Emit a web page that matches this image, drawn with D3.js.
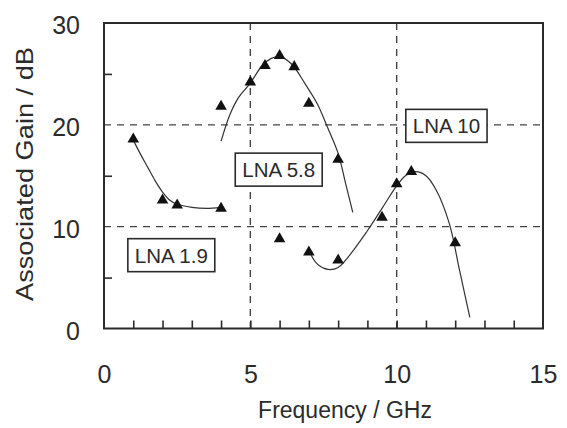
<!DOCTYPE html>
<html><head><meta charset="utf-8">
<script src="https://cdn.jsdelivr.net/npm/d3@7"></script>
<style>
body{margin:0;background:#fff}
text{font-family:"Liberation Sans",Arial,sans-serif;fill:#2b2b2b}
</style>
</head><body><svg id="c" width="567" height="428"></svg>
<script>
// ---- data ----
const xTickLabels = [0, 5, 10, 15];
const yTickLabels = [0, 10, 20, 30];
const xMinorTicks = [1,2,3,4,5,6,7,8,9,10,11,12,13,14];
const yMinorTicks = [5, 15, 25];
const gridFreq = [5, 10];
const gridGain = [10, 20];

// measured points
const lna19Freq = [1.0, 2.0, 2.5, 4.0];
const lna19Gain = [18.6, 12.6, 12.1, 11.8];
const lna58Freq = [4.0, 5.0, 5.5, 6.0, 6.5, 7.0, 8.0];
const lna58Gain = [21.8, 24.2, 25.8, 26.8, 25.7, 22.1, 16.6];
const lna10Freq = [6.0, 7.0, 8.0, 9.5, 10.0, 10.5, 12.0];
const lna10Gain = [8.8, 7.5, 6.7, 10.9, 14.2, 15.4, 8.4];

// fitted curves
const fit19Freq = [1.0, 1.25, 1.5, 1.75, 2.0, 2.25, 2.5, 3.0, 3.5, 4.0];
const fit19Gain = [18.5, 17.1, 15.8, 14.5, 13.4, 12.6, 12.2, 11.9, 11.8, 11.9];
const fit58Freq = [4.0, 4.3, 4.6, 5.0, 5.4, 5.7, 6.0, 6.4, 6.9, 7.3, 7.6, 8.0, 8.25, 8.5];
const fit58Gain = [18.4, 21.0, 22.7, 24.1, 25.8, 26.5, 26.7, 26.0, 23.9, 22.0, 20.0, 17.2, 14.3, 11.4];
const fit10Freq = [7.08, 7.3, 7.65, 8.0, 8.5, 9.0, 9.5, 10.0, 10.3, 10.65, 11.0, 11.35, 11.8, 12.15, 12.5];
const fit10Gain = [7.2, 6.3, 5.8, 6.0, 7.6, 9.6, 11.8, 14.0, 15.0, 15.4, 15.0, 13.6, 10.3, 5.7, 1.1];

const labelText = ["LNA 5.8", "LNA 10", "LNA 1.9"];
const labelFreq = [5.97, 11.7, 2.3];
const labelGain = [15.6, 19.9, 7.2];

// ---- chart ----
const svg = d3.select("#c");
const L = 104, R = 543, T = 23, B = 328.5;
const x = d3.scaleLinear().domain([0, 15]).range([L, R]);
const y = d3.scaleLinear().domain([0, 30]).range([B, T]);
const ink = "#2b2b2b";

// grid
svg.append("g").selectAll("line").data(gridFreq).join("line")
  .attr("x1", d => x(d)).attr("x2", d => x(d)).attr("y1", T).attr("y2", B)
  .attr("stroke", "#444").attr("stroke-width", 1.4).attr("stroke-dasharray", "7,6");
svg.append("g").selectAll("line").data(gridGain).join("line")
  .attr("y1", d => y(d)).attr("y2", d => y(d)).attr("x1", L).attr("x2", R)
  .attr("stroke", "#444").attr("stroke-width", 1.4).attr("stroke-dasharray", "7,6");

// minor ticks (inward)
const xm = svg.append("g").attr("transform", `translate(0,${B})`)
  .call(d3.axisBottom(x).tickValues(xMinorTicks).tickSize(-8).tickFormat(""));
const ym = svg.append("g").attr("transform", `translate(${L},0)`)
  .call(d3.axisLeft(y).tickValues(yMinorTicks).tickSize(-8).tickFormat(""));
[xm, ym].forEach(g => { g.select(".domain").remove(); g.selectAll("line").attr("stroke", ink).attr("stroke-width", 1.6); });

// tick labels
const xa = svg.append("g").attr("transform", `translate(0,${B})`)
  .call(d3.axisBottom(x).tickValues(xTickLabels).tickSize(0).tickPadding(0));
xa.select(".domain").remove();
xa.selectAll("text").attr("y", 54).attr("dy", 0).style("font-size", "25px")
  .style("font-family", "'Liberation Sans',Arial,sans-serif").attr("fill", ink);
const ya = svg.append("g").attr("transform", `translate(${L},0)`)
  .call(d3.axisLeft(y).tickValues(yTickLabels).tickSize(0).tickPadding(0));
ya.select(".domain").remove();
ya.selectAll("text").attr("x", -24).attr("dy", "0.42em").style("font-size", "25px")
  .style("font-family", "'Liberation Sans',Arial,sans-serif").attr("fill", ink);

// frame
svg.append("rect").attr("x", L).attr("y", T).attr("width", R - L).attr("height", B - T)
  .attr("fill", "none").attr("stroke", ink).attr("stroke-width", 2);

// curves
const line = d3.line().x(d => x(d[0])).y(d => y(d[1])).curve(d3.curveCatmullRom.alpha(0.5));
[[fit19Freq, fit19Gain], [fit58Freq, fit58Gain], [fit10Freq, fit10Gain]].forEach(([f, g]) => {
  svg.append("path").datum(d3.zip(f, g)).attr("d", line)
    .attr("fill", "none").attr("stroke", "#333").attr("stroke-width", 1.2);
});

// markers
const tri = d3.symbol().type(d3.symbolTriangle).size(58);
[[lna19Freq, lna19Gain], [lna58Freq, lna58Gain], [lna10Freq, lna10Gain]].forEach(([f, g]) => {
  svg.append("g").selectAll("path").data(d3.zip(f, g)).join("path")
    .attr("d", tri).attr("transform", d => `translate(${x(d[0])},${y(d[1])})`)
    .attr("fill", "#111");
});

// labels
labelText.forEach((t, i) => {
  const g = svg.append("g").attr("transform", `translate(${x(labelFreq[i])},${y(labelGain[i])})`);
  const rect = g.append("rect");
  const tx = g.append("text").text(t).attr("text-anchor", "middle").attr("dy", "0.36em")
    .style("font-size", "20.5px");
  const bb = tx.node().getBBox();
  const pw = bb.width + 14, ph = 33;
  rect.attr("x", -pw / 2).attr("y", -ph / 2).attr("width", pw).attr("height", ph)
    .attr("fill", "#fff").attr("stroke", ink).attr("stroke-width", 1.6);
});

// axis titles
svg.append("text").attr("x", 345).attr("y", 418).attr("text-anchor", "middle")
  .style("font-size", "23px").text("Frequency / GHz");
svg.append("text").attr("transform", "translate(33,174) rotate(-90)").attr("text-anchor", "middle")
  .attr("textLength", 254).attr("lengthAdjust", "spacingAndGlyphs")
  .style("font-size", "24px").text("Associated Gain / dB");
</script>
</body></html>
